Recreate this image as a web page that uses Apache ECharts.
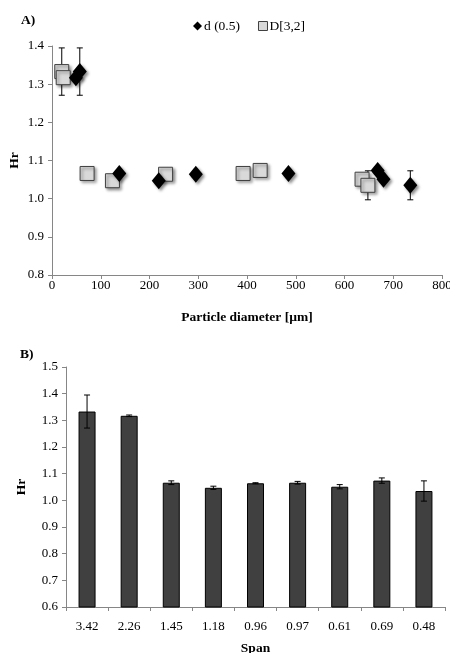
<!DOCTYPE html>
<html><head><meta charset="utf-8">
<script src="https://cdn.jsdelivr.net/npm/echarts@6/dist/echarts.min.js"></script>
<style>html,body{margin:0;padding:0;background:#fff}#c{width:450px;height:653px}</style>
</head><body><div id="c"></div>
<script>
// Data
const spanLabels = ['3.42','2.26','1.45','1.18','0.96','0.97','0.61','0.69','0.48'];
const hrValues   = [1.333,1.317,1.066,1.047,1.064,1.066,1.051,1.074,1.035];
const hrErrors   = [0.062,0.003,0.007,0.006,0.002,0.005,0.008,0.010,0.038];
const d05Values  = [57,49,138,219,295,485,680,668,735];
const d32Values  = [20,23,72,124,233,392,636,427,648];

const FONT = '"Liberation Serif", "Times New Roman", serif';
const axisGray = '#868686';
const TICK_FS = 13;

function pairs(xs){ return xs.map((x,i)=>[x, hrValues[i], hrErrors[i]]); }

function errRender(params, api){
  const x = api.value(0), y = api.value(1), e = api.value(2);
  const hi = api.coord([x, y+e]), lo = api.coord([x, y-e]);
  const w = 3;
  const st = {stroke:'#000', lineWidth:1};
  return {type:'group', children:[
    {type:'line', shape:{x1:hi[0],y1:hi[1],x2:lo[0],y2:lo[1]}, style:st},
    {type:'line', shape:{x1:hi[0]-w,y1:hi[1],x2:hi[0]+w,y2:hi[1]}, style:st},
    {type:'line', shape:{x1:lo[0]-w,y1:lo[1],x2:lo[0]+w,y2:lo[1]}, style:st}
  ]};
}

const axisCommon = {
  axisLine:{show:true, lineStyle:{color:axisGray, width:1}},
  axisTick:{show:true, inside:false, length:4, lineStyle:{color:axisGray}},
  axisLabel:{color:'#000', fontFamily:FONT, fontSize:TICK_FS},
  splitLine:{show:false},
  nameMoveOverlap:false,
  nameTextStyle:{color:'#000', fontFamily:FONT, fontSize:13.5, fontWeight:'bold'}
};

const chart = echarts.init(document.getElementById('c'), null, {renderer:'canvas'});
const shadow = {shadowColor:'rgba(0,0,0,0.45)', shadowBlur:3, shadowOffsetX:2, shadowOffsetY:2};

chart.setOption({
  animation:false,
  backgroundColor:'#fff',
  title:[
    {text:'A)', left:16, top:9, textStyle:{fontFamily:FONT, fontSize:13.5, fontWeight:'bold', color:'#000'}},
    {text:'B)', left:15, top:343, textStyle:{fontFamily:FONT, fontSize:13.5, fontWeight:'bold', color:'#000'}}
  ],
  legend:{
    left:188, top:14, itemGap:18, itemWidth:9, itemHeight:9,
    textStyle:{fontFamily:FONT, fontSize:13.5, color:'#000', padding:[0,0,0,-3]},
    data:[
      {name:'d (0.5)', icon:'diamond', itemStyle:{color:'#000', borderWidth:0, opacity:1}},
      {name:'D[3,2]', icon:'rect', itemStyle:{color:'#d9d9d9', borderColor:'#404040', borderWidth:1, opacity:1}}
    ]
  },
  grid:[
    {left:52, right:8, top:46, bottom:378, containLabel:false, outerBoundsMode:'none'},
    {left:66, right:5, top:367, bottom:46, containLabel:false, outerBoundsMode:'none'}
  ],
  xAxis:[
    Object.assign({}, axisCommon, {
      type:'value', gridIndex:0, min:0, max:800, interval:100,
      axisLabel:{color:'#000', fontFamily:FONT, fontSize:TICK_FS, margin:4},
      name:'Particle diameter [µm]', nameLocation:'middle', nameGap:36
    }),
    Object.assign({}, axisCommon, {
      type:'category', gridIndex:1, data:spanLabels,
      axisTick:{show:true, alignWithLabel:false, length:4, lineStyle:{color:axisGray}},
      axisLabel:{color:'#000', fontFamily:FONT, fontSize:TICK_FS, interval:0, margin:13},
      name:'Span', nameLocation:'middle', nameGap:35
    })
  ],
  yAxis:[
    Object.assign({}, axisCommon, {
      type:'value', gridIndex:0, min:0.8, max:1.4, interval:0.1,
      axisLabel:{color:'#000', fontFamily:FONT, fontSize:TICK_FS, formatter:v=>v.toFixed(1)},
      name:'Hr', nameLocation:'middle', nameGap:30
    }),
    Object.assign({}, axisCommon, {
      type:'value', gridIndex:1, min:0.6, max:1.5, interval:0.1,
      axisLabel:{color:'#000', fontFamily:FONT, fontSize:TICK_FS, formatter:v=>v.toFixed(1)},
      name:'Hr', nameLocation:'middle', nameGap:37
    })
  ],
  series:[
    {type:'custom', name:'errD32', xAxisIndex:0, yAxisIndex:0, data:pairs(d32Values), renderItem:errRender, z:1, silent:true},
    {type:'custom', name:'errD05', xAxisIndex:0, yAxisIndex:0, data:pairs(d05Values), renderItem:errRender, z:1, silent:true},
    {type:'scatter', name:'D[3,2]', xAxisIndex:0, yAxisIndex:0, symbol:'rect', symbolSize:14,
      data:d32Values.map((x,i)=>[x,hrValues[i]]),
      itemStyle:Object.assign({color:'#d9d9d9', borderColor:'#404040', borderWidth:1, opacity:1}, shadow), z:3},
    {type:'scatter', name:'d (0.5)', xAxisIndex:0, yAxisIndex:0, symbol:'diamond', symbolSize:[14,17],
      data:d05Values.map((x,i)=>[x,hrValues[i]]),
      itemStyle:Object.assign({color:'#000', opacity:1}, shadow), z:4},
    {type:'bar', name:'bars', xAxisIndex:1, yAxisIndex:1, data:hrValues, barWidth:17,
      itemStyle:{color:'#404040', borderColor:'#000', borderWidth:1}, z:2},
    {type:'custom', name:'errBar', xAxisIndex:1, yAxisIndex:1,
      data:hrValues.map((v,i)=>[i, v, hrErrors[i]]), renderItem:errRender, z:5, silent:true}
  ]
});
</script></body></html>
